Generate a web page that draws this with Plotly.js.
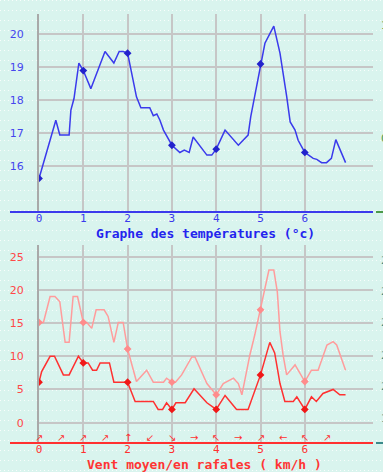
<!DOCTYPE html>
<html>
<head>
<meta charset="utf-8">
<script src="https://cdn.plot.ly/plotly-3.0.1.min.js"></script>
<style>
html,body{margin:0;padding:0;}
body{width:383px;height:472px;overflow:hidden;background-color:#d9f4ee;
background-image:url("data:image/svg+xml;utf8,<svg xmlns='http://www.w3.org/2000/svg' width='4' height='10'><rect width='1' height='1' fill='white' fill-opacity='0.85'/></svg>");}
#chart{width:383px;height:472px;}
</style>
</head>
<body>
<div id="chart"></div>
<script>
// ---- Data (days on x) ----
const dayTicks = [0, 1, 2, 3, 4, 5, 6];
const dayLabels = ["0", "1", "2", "3", "4", "5", "6"];

const tempX = [0, 0.38, 0.47, 0.68, 0.72, 0.79, 0.9, 1.0, 1.17, 1.49, 1.69, 1.81, 1.9, 2.0, 2.2, 2.3, 2.5, 2.58, 2.66, 2.73, 2.81, 3.0, 3.18, 3.28, 3.39, 3.48, 3.79, 3.9, 4.0, 4.2, 4.5, 4.69, 4.72, 4.78, 5.0, 5.1, 5.3, 5.44, 5.59, 5.67, 5.78, 5.85, 6.0, 6.19, 6.27, 6.38, 6.49, 6.6, 6.7, 6.92];
const tempY = [15.62, 17.39, 16.94, 16.94, 17.7, 18.05, 19.13, 18.9, 18.35, 19.48, 19.13, 19.48, 19.48, 19.43, 18.1, 17.77, 17.77, 17.53, 17.58, 17.39, 17.09, 16.63, 16.41, 16.48, 16.41, 16.88, 16.33, 16.33, 16.51, 17.09, 16.63, 16.88, 16.94, 17.5, 19.1, 19.73, 20.25, 19.43, 18.12, 17.34, 17.09, 16.78, 16.41, 16.23, 16.2, 16.1, 16.1, 16.23, 16.8, 16.1];
const tempDaily = [15.62, 18.9, 19.43, 16.63, 16.51, 19.1, 16.41];
const tempTicks = [16, 17, 18, 19, 20];

const meanX = [0, 0.06, 0.25, 0.35, 0.55, 0.68, 0.89, 1.0, 1.11, 1.21, 1.3, 1.38, 1.59, 1.69, 2.0, 2.17, 2.58, 2.69, 2.79, 2.88, 3.0, 3.09, 3.3, 3.5, 3.79, 4.0, 4.2, 4.46, 4.72, 4.87, 5.0, 5.21, 5.32, 5.44, 5.55, 5.74, 5.82, 6.0, 6.15, 6.26, 6.41, 6.64, 6.79, 6.92];
const meanY = [6.1, 7.7, 10.0, 10.0, 7.2, 7.2, 10.0, 9.0, 9.0, 7.9, 7.9, 9.0, 9.0, 6.1, 6.1, 3.2, 3.2, 2.0, 2.0, 3.0, 2.0, 3.0, 3.0, 5.1, 3.0, 2.0, 4.1, 2.0, 2.0, 4.9, 7.2, 12.1, 10.5, 5.9, 3.2, 3.2, 3.9, 2.0, 3.9, 3.2, 4.4, 5.0, 4.2, 4.2];
const meanDaily = [6.1, 9.0, 6.1, 2.0, 2.0, 7.2, 2.0];

const gustX = [0, 0.1, 0.25, 0.36, 0.47, 0.59, 0.68, 0.77, 0.87, 1.0, 1.08, 1.19, 1.29, 1.47, 1.56, 1.69, 1.79, 1.9, 2.0, 2.2, 2.43, 2.58, 2.81, 2.88, 3.0, 3.08, 3.22, 3.45, 3.52, 3.79, 4.0, 4.16, 4.39, 4.5, 4.58, 4.69, 4.76, 4.87, 5.0, 5.08, 5.19, 5.3, 5.38, 5.44, 5.51, 5.59, 5.78, 5.85, 6.0, 6.15, 6.3, 6.5, 6.64, 6.72, 6.92];
const gustY = [15.1, 15.1, 19.0, 19.0, 18.2, 12.1, 12.1, 19.0, 19.0, 15.1, 15.1, 14.2, 17.0, 17.0, 16.0, 12.1, 15.1, 15.1, 11.1, 6.2, 7.9, 6.1, 6.1, 6.7, 6.1, 6.1, 7.2, 9.9, 9.9, 5.9, 4.2, 5.9, 6.7, 5.9, 4.2, 7.9, 10.2, 13.2, 17.0, 19.7, 23.0, 23.0, 19.7, 13.7, 10.2, 7.2, 8.7, 7.9, 6.2, 7.9, 7.9, 11.7, 12.2, 11.7, 7.9];
const gustDaily = [15.1, 15.1, 11.1, 6.1, 4.2, 17.0, 6.2];
const windTicks = [0, 5, 10, 15, 20, 25];

const dirX = [0, 0.5, 1, 1.5, 2, 2.5, 3, 3.5, 4, 4.5, 5, 5.5, 6, 6.5];
const dirGlyph = ["↗", "↗", "↗", "↗", "↑", "↙", "↘", "→", "↖", "→", "↗", "←", "↖", "↗"];

const topTitle = "Graphe des températures (°c)";
const botTitle = "Vent moyen/en rafales ( km/h )";
const rightTopLabels = ["1", "0"];
const rightBotLabels = ["2", "2", "2", "2", "2", "1"];

// ---- Layout geometry ----
const W = 383, H = 472;
const M = {l: 39, r: 10, t: 14, b: 29};
const PW = W - M.l - M.r, PH = H - M.t - M.b;
const py = p => (H - M.b - p) / PH;      // pixel y -> paper y
const px = p => (p - M.l) / PW;          // pixel x -> paper x

const BLUE = "#3a3aec", RED = "#ff3030", PINK = "#ff9c9c";
const GRID = "#c6c6c6";

const traces = [
  {x: tempX, y: tempY, xaxis: "x", yaxis: "y", mode: "lines", line: {color: BLUE, width: 1.5}, hoverinfo: "skip"},
  {x: dayTicks, y: tempDaily, xaxis: "x", yaxis: "y", mode: "markers", marker: {color: "#2222cc", size: 6, symbol: "diamond"}, hoverinfo: "skip"},
  {x: gustX, y: gustY, xaxis: "x2", yaxis: "y2", mode: "lines", line: {color: PINK, width: 1.5}, hoverinfo: "skip"},
  {x: dayTicks, y: gustDaily, xaxis: "x2", yaxis: "y2", mode: "markers", marker: {color: "#ff8c8c", size: 6, symbol: "diamond"}, hoverinfo: "skip"},
  {x: meanX, y: meanY, xaxis: "x2", yaxis: "y2", mode: "lines", line: {color: RED, width: 1.5}, hoverinfo: "skip"},
  {x: dayTicks, y: meanDaily, xaxis: "x2", yaxis: "y2", mode: "markers", marker: {color: "#f01818", size: 6, symbol: "diamond"}, hoverinfo: "skip"}
];

const xCommon = {
  range: [0, PW / 44.3], tickvals: dayTicks, ticktext: dayLabels,
  showgrid: true, gridcolor: GRID, gridwidth: 2, zeroline: false, showline: false,
  ticks: "", ticklabelstandoff: -2, fixedrange: true
};
const yCommon = {
  showgrid: true, gridcolor: GRID, gridwidth: 2, zeroline: false,
  showline: true, linecolor: "#a9a9a9", linewidth: 2,
  ticks: "outside", ticklen: 11, tickcolor: "rgba(0,0,0,0)", fixedrange: true
};

const layout = {
  width: W, height: H,
  margin: M,
  paper_bgcolor: "rgba(0,0,0,0)", plot_bgcolor: "rgba(0,0,0,0)",
  showlegend: false,
  xaxis: Object.assign({}, xCommon, {anchor: "y", domain: [0, 1],
    tickfont: {family: "DejaVu Sans Mono", size: 11, color: BLUE}}),
  yaxis: Object.assign({}, yCommon, {anchor: "x", domain: [py(212), 1], range: [14.6, 20.62],
    tickvals: tempTicks, tickfont: {family: "DejaVu Sans", size: 11, color: "#4646ee"}}),
  xaxis2: Object.assign({}, xCommon, {anchor: "y2", domain: [0, 1],
    tickfont: {family: "DejaVu Sans Mono", size: 11, color: RED}}),
  yaxis2: Object.assign({}, yCommon, {anchor: "x2", domain: [0, py(245)], range: [-3.06, 26.76],
    tickvals: windTicks, tickfont: {family: "DejaVu Sans", size: 11, color: "#ff4848"}}),
  shapes: [
    {type: "line", xref: "paper", yref: "paper", x0: px(10), x1: 1, y0: py(212), y1: py(212), line: {color: BLUE, width: 2}},
    {type: "line", xref: "paper", yref: "paper", x0: px(10), x1: 1, y0: 0, y1: 0, line: {color: RED, width: 2}},
    {type: "line", xref: "paper", yref: "paper", x0: px(376), x1: px(390), y0: py(212), y1: py(212), line: {color: "#4a9a4a", width: 2}},
    {type: "line", xref: "paper", yref: "paper", x0: px(376), x1: px(390), y0: 0, y1: 0, line: {color: "#3a8a8a", width: 2}}
  ],
  annotations: []
};

layout.annotations.push({xref: "paper", yref: "paper", x: px(205), y: py(233.5), xanchor: "center", yanchor: "middle",
  text: "<b>" + topTitle + "</b>", showarrow: false, font: {family: "DejaVu Sans Mono", size: 13, color: "#2424ee"}});
layout.annotations.push({xref: "paper", yref: "paper", x: px(204), y: py(464), xanchor: "center", yanchor: "middle",
  text: "<b>" + botTitle + "</b>", showarrow: false, font: {family: "DejaVu Sans Mono", size: 13, color: "#ff3434"}});

dirX.forEach((d, i) => {
  layout.annotations.push({xref: "x2", yref: "paper", x: d, y: py(437), xanchor: "center", yanchor: "middle",
    text: dirGlyph[i], showarrow: false, font: {family: "DejaVu Sans", size: 10, color: "#ff3030"}});
});

const rtY = [25, 138];
rightTopLabels.forEach((t, i) => {
  layout.annotations.push({xref: "paper", yref: "paper", x: px(379), y: py(rtY[i]), xanchor: "left", yanchor: "middle",
    text: t, showarrow: false, font: {family: "DejaVu Sans", size: 11, color: "#4a9a4a"}});
});
const rbY = [260, 291.7, 323, 355, 386.7, 418];
rightBotLabels.forEach((t, i) => {
  layout.annotations.push({xref: "paper", yref: "paper", x: px(379), y: py(rbY[i]), xanchor: "left", yanchor: "middle",
    text: t, showarrow: false, font: {family: "DejaVu Sans", size: 11, color: "#3a8a8a"}});
});

Plotly.newPlot("chart", traces, layout, {displayModeBar: false, staticPlot: true});
</script>
</body>
</html>
